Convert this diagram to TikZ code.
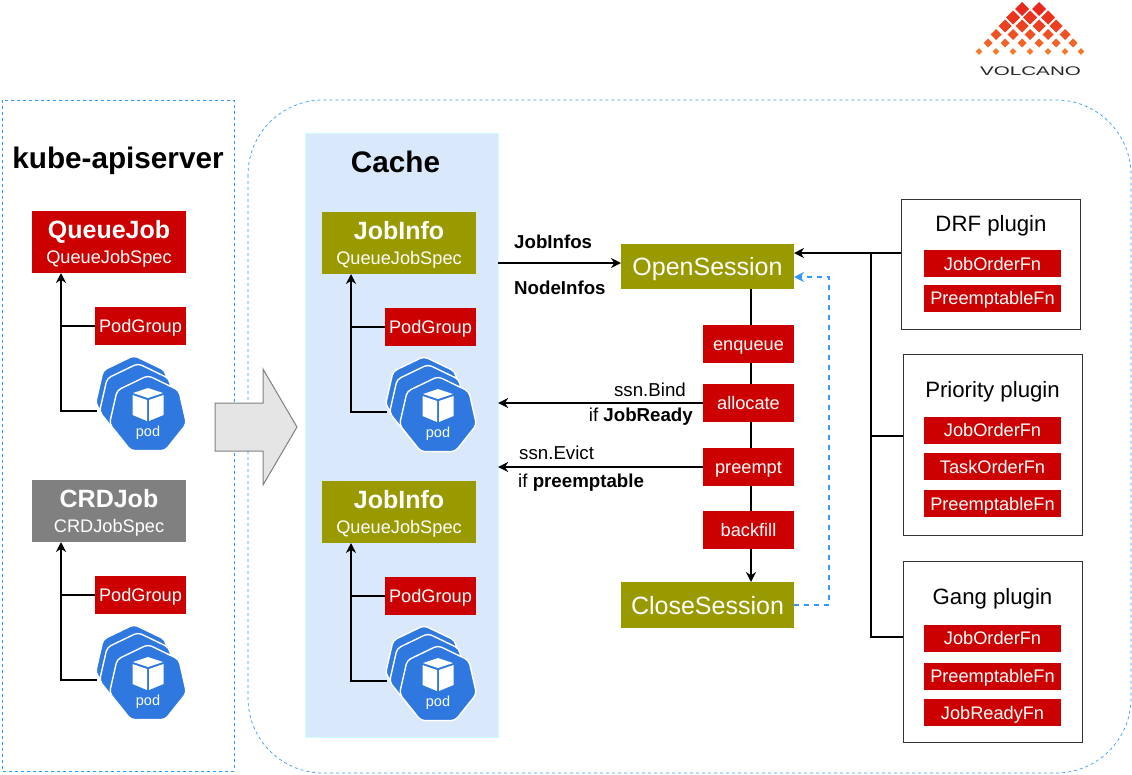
\documentclass[tikz,border=0pt]{standalone}
\usepackage{fontspec}
\setmainfont{Liberation Sans}
\usetikzlibrary{arrows.meta,shapes.geometric,calc}

\definecolor{jobred}{HTML}{CC0000}
\definecolor{jobolive}{HTML}{999900}
\definecolor{jobgray}{HTML}{808080}
\definecolor{cacheblue}{HTML}{DAE8FC}
\definecolor{cacheline}{HTML}{CCFFFF}
\definecolor{dashblue}{HTML}{3399FF}
\definecolor{podblue}{HTML}{2E78E0}
\definecolor{logored}{HTML}{E8281C}
\definecolor{logoorange}{HTML}{F47A2C}

\tikzset{
	flow/.style={line width=1.6pt, -{Stealth[length=10pt,width=10pt]}},
	plain/.style={line width=1.6pt},
	box/.style={inner sep=0pt, outer sep=0pt, text=white, align=center},
	redbox/.style={box, fill=jobred, text height=13pt, text depth=0pt, font=\fontsize{18.2}{20}\selectfont},
	sessionbox/.style={box, fill=jobolive, minimum width=173pt, text height=18pt, text depth=0pt, font=\fontsize{25}{28}\selectfont},
	jobbox/.style={box, minimum width=154pt, minimum height=62pt, text depth=0pt, font=\fontsize{18.2}{25}\selectfont},
	stepbox/.style={redbox, minimum width=91pt, minimum height=38pt},
	fnbox/.style={redbox, minimum width=137pt, minimum height=27pt},
	pluginbox/.style={draw=black!80, line width=1pt, fill=white, minimum width=179pt, outer sep=0pt},
	area/.style={draw=dashblue, dashed, line width=0.7pt, dash pattern=on 3pt off 3pt},
	podhex/.style={regular polygon, regular polygon sides=7, minimum size=79pt, inner sep=0pt,
		fill=podblue, draw=white, line width=1.4pt, rounded corners=4pt},
	label/.style={inner sep=0pt, font=\fontsize{18.7}{20}\selectfont},
	heading/.style={inner sep=0pt, font=\fontsize{29.7}{32}\selectfont\bfseries},
	plugintitle/.style={inner sep=0pt, font=\fontsize{22.2}{24}\selectfont},
}

\newcommand{\jobtext}[2]{{\fontsize{25}{27}\selectfont\bfseries #1}\\#2}

\begin{document}
\begin{tikzpicture}[x=1pt,y=-1pt]
	\useasboundingbox (0,0) rectangle (1132,774);

	% Frames
	\draw[area] (2,100) rectangle (234,771);
	\draw[area, rounded corners=75pt] (248,100) rectangle (1131,773);
	\node[draw=cacheline, fill=cacheblue, minimum width=193pt, minimum height=604pt, inner sep=0pt] (cache) at (401.5,435) {};

	\node[heading] (apiserver) at (118,161) {kube-apiserver};
	\node[heading] (cachetitle) at (395.5,162) {Cache};

	% Jobs
	\node[jobbox, fill=jobred] (queuejob) at (109,242) {\jobtext{QueueJob}{QueueJobSpec}};
	\node[jobbox, fill=jobgray] (crdjob) at (109,511) {\jobtext{CRDJob}{CRDJobSpec}};
	\node[jobbox, fill=jobolive] (infoa) at (399,243) {\jobtext{JobInfo}{QueueJobSpec}};
	\node[jobbox, fill=jobolive] (infob) at (399,512) {\jobtext{JobInfo}{QueueJobSpec}};

	% PodGroup and pods under each job
	\foreach \job in {queuejob, crdjob, infoa, infob} {
		\node[stepbox] (\job group) at ($(\job.south west)+(108.5,53)$) {PodGroup};
		\coordinate (\job elbow) at ($(\job.south west)+(29,138)$);
		\node[podhex] (\job back) at ($(\job.south west)+(102,122)$) {};
		\node[podhex] (\job mid) at ($(\job.south west)+(106,130)$) {};
		\node[podhex] (\job front) at ($(\job.south west)+(116,142)$) {};
		\node[text=white, inner sep=0pt, font=\fontsize{14.5}{15}\selectfont] (\job pod) at ($(\job front)+(0,18)$) {pod};
		\fill[white] ($(\job front)+(0,-27)$) -- ++(15,5) -- ++(-15,5) -- ++(-15,-5) -- cycle;
		\fill[white] ($(\job front)+(-15.5,-20)$) -- ++(14.5,5) -- ++(0,21) -- ++(-14.5,-6) -- cycle;
		\fill[white] ($(\job front)+(15.5,-20)$) -- ++(-14.5,5) -- ++(0,21) -- ++(14.5,-6) -- cycle;
		\draw[plain] (\job group.west) -- (\job group.west -| \job elbow);
		\draw[flow] (\job back.west |- \job elbow) -- (\job elbow) -- (\job elbow |- \job.south);
	}

	% Session
	\node[sessionbox, minimum height=45pt] (open) at (707.5,266.5) {OpenSession};
	\node[sessionbox, minimum height=46pt] (close) at (707.5,605) {CloseSession};
	\draw[flow] (open.south -| 751,0) -- (close.north -| 751,0);
	\node[stepbox] (enqueue) at (748.5,344) {enqueue};
	\node[stepbox] (allocate) at (748.5,403) {allocate};
	\node[stepbox] (preempt) at (748.5,467) {preempt};
	\node[stepbox] (backfill) at (748.5,530) {backfill};

	\draw[flow] (cache.east |- 0,263) -- (open.west |- 0,263);
	\node[label, font=\fontsize{18.7}{20}\selectfont\bfseries, anchor=west] (jobinfos) at (514,242) {JobInfos};
	\node[label, font=\fontsize{18.7}{20}\selectfont\bfseries, anchor=west] (nodeinfos) at (514,288) {NodeInfos};
	\draw[flow] (allocate.west) -- (cache.east |- allocate);
	\draw[flow] (preempt.west) -- (cache.east |- preempt);
	\node[label, anchor=east] (bind) at (686,390) {ssn.Bind};
	\node[label, anchor=east] (ifready) at (693,417) {if \textbf{JobReady}};
	\node[label, anchor=west] (evict) at (519,453) {ssn.Evict};
	\node[label, anchor=west] (ifpreempt) at (518,483) {if \textbf{preemptable}};

	\coordinate (retbottom) at (829,605);
	\coordinate (rettop) at (829,277);
	\draw[line width=1.5pt, dashblue, dash pattern=on 5pt off 5pt, -{Stealth[length=10pt,width=10pt]}] (close.east) -- (retbottom) -- (rettop) -- (open.east |- rettop);

	% Big arrow
	\draw[fill=black!10, draw=black!50, line width=1pt] (215,403) -- (263,403) -- (263,369) -- (297,427) -- (263,485) -- (263,451) -- (215,451) -- cycle;

	% Plugins
	\node[pluginbox, minimum height=130pt] (drf) at (990.5,264) {};
	\node[pluginbox, minimum height=181pt] (priority) at (992.5,444.5) {};
	\node[pluginbox, minimum height=181pt] (gang) at (992.5,651.5) {};
	\node[plugintitle] (drftitle) at (991,226) {DRF plugin};
	\node[plugintitle] (prioritytitle) at (992.5,391.5) {Priority plugin};
	\node[plugintitle] (gangtitle) at (992.5,598.5) {Gang plugin};

	\foreach \name/\y/\txt in {dfa/263.5/JobOrderFn, dfb/298/PreemptableFn,
		pra/430/JobOrderFn, prb/466.5/TaskOrderFn, prc/503.5/PreemptableFn,
		gaa/638/JobOrderFn, gab/676/PreemptableFn, gac/712.5/JobReadyFn}
		\node[fnbox] (\name) at (992.5,\y) {\txt};

	\coordinate (branchtop) at (871,253);
	\coordinate (branchbottom) at (871,637);
	\draw[flow] (drf.west |- branchtop) -- (open.east |- branchtop);
	\draw[plain] (branchtop) -- (branchbottom) -- (gang.west |- branchbottom);
	\draw[plain] (branchtop |- 0,436) -- (priority.west |- 0,436);

	% Logo
	\foreach \y/\s/\p/\xlist in {9/7/100/{1022,1039},
		17.5/7/85/{1013,1030,1048},
		26/6.5/70/{1005,1022,1039,1056},
		34.5/5.5/50/{996,1013,1030,1048,1065},
		43/4.5/25/{988,1005,1022,1039,1056,1073},
		51.5/3.3/0/{979,996,1013,1030,1048,1065,1081}}
		\foreach \x in \xlist
			\fill[logored!\p!logoorange] (\x,\y-\s) -- (\x+\s,\y) -- (\x,\y+\s) -- (\x-\s,\y) -- cycle;
	\node[inner sep=0pt, xscale=1.65, font=\fontsize{12.5}{14}\selectfont, text=black!85] (logotext) at (1030.5,71) {VOLCANO};
\end{tikzpicture}
\end{document}
